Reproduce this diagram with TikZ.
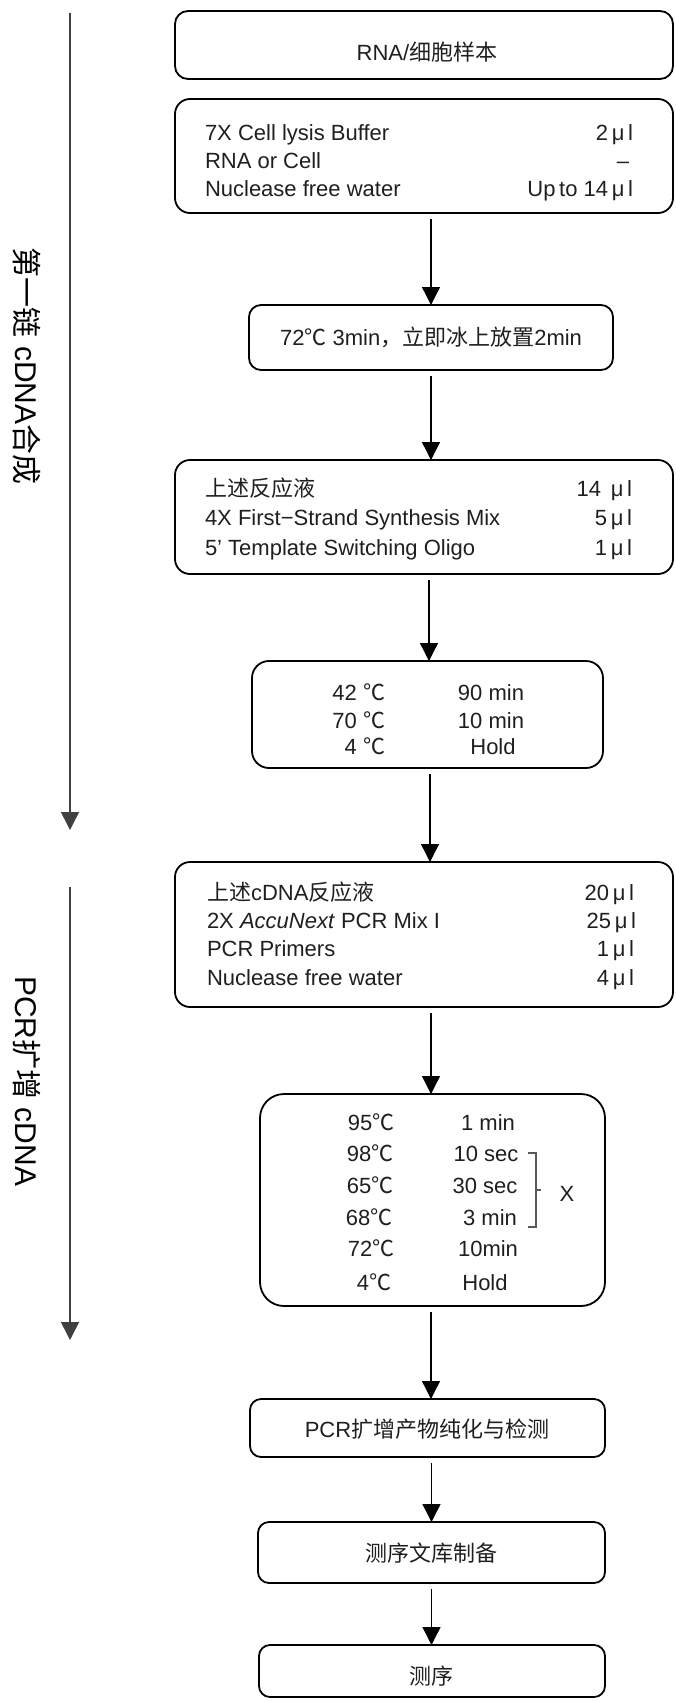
\documentclass[tikz,border=0pt]{standalone}
\usepackage{fontspec}
\setmainfont{Liberation Sans}
\newfontfamily\cjk{Noto Sans CJK SC}
\usetikzlibrary{arrows.meta}
\newcommand{\dgc}{{\cjk ℃}}
\newcommand{\mul}{\,μ\,l}
\newcommand{\bodyfont}{\fontsize{22}{26}\selectfont}
\newcommand{\labfont}{\fontsize{30}{34}\selectfont}
\tikzset{
  bx/.style={draw, line width=1.8pt, inner sep=0pt, outer sep=0pt, rounded corners=#1},
  txt/.style={inner sep=0pt, outer sep=0pt, font=\bodyfont, text=black!88},
  arr/.style={line width=1.3pt, -{Triangle[width=18pt,length=18pt]}, shorten <=6pt},
  sidearr/.style={line width=1.5pt, draw=black!75, -{Triangle[width=18pt,length=18pt]}},
  lab/.style={inner sep=0pt, font=\labfont, rotate=-90},
  brk/.style={line width=1.4pt, draw=black!65}
}
\begin{document}
\begin{tikzpicture}[x=1pt, y=-1pt]
\useasboundingbox (0,0) rectangle (675,1702);
% boxes
\node[bx=13pt, minimum width=498pt, minimum height=68pt] (b1) at (424,45) {};
\node[bx=15pt, minimum width=498pt, minimum height=114pt] (b2) at (424,156) {};
\node[bx=12pt, minimum width=364pt, minimum height=65pt] (b3) at (431,337.5) {};
\node[bx=15pt, minimum width=498pt, minimum height=114pt] (b4) at (424,517) {};
\node[bx=17pt, minimum width=351pt, minimum height=107pt] (b5) at (427.5,714.5) {};
\node[bx=15pt, minimum width=498pt, minimum height=145pt] (b6) at (424,934.5) {};
\node[bx=24pt, minimum width=345pt, minimum height=212pt] (b7) at (432.5,1200) {};
\node[bx=11pt, minimum width=355pt, minimum height=58pt] (b8) at (427.5,1428) {};
\node[bx=11pt, minimum width=347pt, minimum height=61pt] (b9) at (431.5,1552.5) {};
\node[bx=11pt, minimum width=346pt, minimum height=52pt] (b10) at (432,1671) {};
% box texts
\node[txt, anchor=base] (t1) at (427,61) {RNA/{\cjk 细胞样本}};
\node[txt, anchor=base west] (t21) at (205,140) {7X Cell lysis Buffer};
\node[txt, anchor=base west] (t22) at (205,168) {RNA or Cell};
\node[txt, anchor=base west] (t23) at (205,196) {Nuclease free water};
\node[txt, anchor=base east] (v21) at (633,140) {2\mul};
\node[txt, anchor=base] (v22) at (623,168) {–};
\node[txt, anchor=base east] (v23) at (633,196) {Up\,to 14\mul};
\node[txt, anchor=base] (t3) at (431,345) {72\dgc{} 3min{\cjk ，立即冰上放置}2min};
\node[txt, anchor=base west] (t41) at (205,496) {{\cjk 上述反应液}};
\node[txt, anchor=base west] (t42) at (205,525) {4X First−Strand Synthesis Mix};
\node[txt, anchor=base west] (t43) at (205,555) {5' Template Switching Oligo};
\node[txt, anchor=base east] (v41) at (632,496) {14 \mul};
\node[txt, anchor=base east] (v42) at (632,525) {5\mul};
\node[txt, anchor=base east] (v43) at (632,555) {1\mul};
\node[txt, anchor=base east] (p51) at (385,700) {42 \dgc};
\node[txt, anchor=base east] (p52) at (385,728) {70 \dgc};
\node[txt, anchor=base east] (p53) at (385,754) {4 \dgc};
\node[txt, anchor=base] (q51) at (491,700) {90 min};
\node[txt, anchor=base] (q52) at (491,728) {10 min};
\node[txt, anchor=base] (q53) at (493,754) {Hold};
\node[txt, anchor=base west] (t61) at (207,900) {{\cjk 上述}cDNA{\cjk 反应液}};
\node[txt, anchor=base west] (t62) at (207,928) {2X \textit{AccuNext} PCR Mix I};
\node[txt, anchor=base west] (t63) at (207,956) {PCR Primers};
\node[txt, anchor=base west] (t64) at (207,985) {Nuclease free water};
\node[txt, anchor=base east] (v61) at (634,900) {20\mul};
\node[txt, anchor=base east] (v62) at (636,928) {25\mul};
\node[txt, anchor=base east] (v63) at (634,956) {1\mul};
\node[txt, anchor=base east] (v64) at (634,985) {4\mul};
\node[txt, anchor=base] (p71) at (371,1130) {95\dgc};
\node[txt, anchor=base] (p72) at (370,1161) {98\dgc};
\node[txt, anchor=base] (p73) at (370,1193) {65\dgc};
\node[txt, anchor=base] (p74) at (369,1225) {68\dgc};
\node[txt, anchor=base] (p75) at (371,1256) {72\dgc};
\node[txt, anchor=base] (p76) at (374,1290) {4\dgc};
\node[txt, anchor=base] (q71) at (488,1130) {1 min};
\node[txt, anchor=base] (q72) at (486,1161) {10 sec};
\node[txt, anchor=base] (q73) at (485,1193) {30 sec};
\node[txt, anchor=base] (q74) at (490,1225) {3 min};
\node[txt, anchor=base] (q75) at (488,1256) {10min};
\node[txt, anchor=base] (q76) at (485,1290) {Hold};
\node[txt, anchor=base] (x7) at (567,1201) {X};
\draw[brk] (528,1153) -- (536,1153) -- (536,1227) -- (528,1227);
\draw[brk] (536,1190) -- (541,1190);
\node[txt, anchor=base] (t8) at (427,1437) {PCR{\cjk 扩增产物纯化与检测}};
\node[txt, anchor=base] (t9) at (431,1561) {{\cjk 测序文库制备}};
\node[txt, anchor=base] (t10) at (431,1684) {{\cjk 测序}};
% arrows
\coordinate (a4) at (429,0);
\coordinate (a5) at (430,0);
\coordinate (a6) at (431,0);
\coordinate (a7) at (431,0);
\draw[arr] (b2.south -| b3.north) -- (b3.north);
\draw[arr] (b3.south) -- (b3.south |- b4.north);
\draw[arr] (b4.south -| a4) -- (a4 |- b5.north);
\draw[arr] (b5.south -| a5) -- (a5 |- b6.north);
\draw[arr] (b6.south -| a6) -- (a6 |- b7.north);
\draw[arr] (b7.south -| a7) -- (a7 |- b8.north);
\draw[arr] (b8.south -| b9.north) -- (b9.north);
\draw[arr] (b9.south) -- (b9.south |- b10.north);
% side arrows and labels
\coordinate (s1) at (70,13);
\coordinate (e1) at (70,830);
\coordinate (s2) at (70,887);
\coordinate (e2) at (70,1340);
\draw[sidearr] (s1) -- (e1);
\draw[sidearr] (s2) -- (e2);
\node[lab] (l1) at (27,366) {{\cjk 第一链} cDNA{\cjk 合成}};
\node[lab] (l2) at (27,1081) {PCR{\cjk 扩增} cDNA};
\end{tikzpicture}
\end{document}
